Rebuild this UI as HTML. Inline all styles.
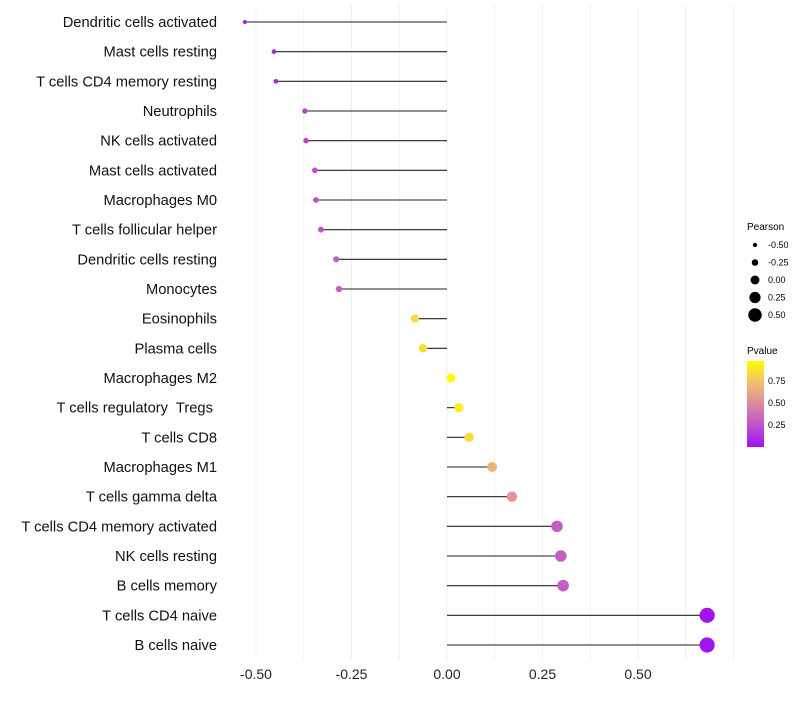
<!DOCTYPE html>
<html><head><meta charset="utf-8"><style>
body{margin:0;background:#fff;font-family:"Liberation Sans",sans-serif}
text{white-space:pre}
</style></head><body>
<svg id="chart" width="800" height="700">
<defs><linearGradient id="pg" x1="0" y1="1" x2="0" y2="0">
<stop offset="0" stop-color="#a010f0"/><stop offset="0.25" stop-color="#c050d0"/>
<stop offset="0.5" stop-color="#dc8aa0"/><stop offset="0.75" stop-color="#f2be70"/>
<stop offset="1" stop-color="#ffff00"/></linearGradient></defs>
<g id="grid"></g><g id="marks"></g><g id="labels"></g><g id="xaxis"></g>
<g font-size="9">
<text x="747" y="230" font-size="10">Pearson</text>
<g id="sizeLeg"></g>
</g>
<g font-size="9">
<text x="747" y="354" font-size="10">Pvalue</text>
<rect x="747" y="361" width="17" height="86" fill="url(#pg)"/>
<text x="768" y="384">0.75</text><text x="768" y="406">0.50</text><text x="768" y="428">0.25</text>
</g>
</svg>
<script>
const categories=["Dendritic cells activated","Mast cells resting","T cells CD4 memory resting","Neutrophils","NK cells activated","Mast cells activated","Macrophages M0","T cells follicular helper","Dendritic cells resting","Monocytes","Eosinophils","Plasma cells","Macrophages M2","T cells regulatory  Tregs ","T cells CD8","Macrophages M1","T cells gamma delta","T cells CD4 memory activated","NK cells resting","B cells memory","T cells CD4 naive","B cells naive"];
const pearson=[-0.529,-0.453,-0.448,-0.372,-0.369,-0.346,-0.343,-0.33,-0.29,-0.283,-0.084,-0.063,0.01,0.031,0.058,0.118,0.17,0.288,0.298,0.304,0.681,0.681];
const pvalues=[0.05,0.1,0.1,0.2,0.2,0.25,0.25,0.25,0.3,0.3,0.85,0.87,0.98,0.93,0.87,0.7,0.55,0.3,0.3,0.3,0.01,0.01];
const xTicks=[-0.5,-0.25,0,0.25,0.5];
const xTickLabels=["-0.50","-0.25","0.00","0.25","0.50"];
const sizeLegend=[-0.5,-0.25,0,0.25,0.5];
const NS="http://www.w3.org/2000/svg";
const x=v=>447+v*382;
const y=i=>22+i*(623/21);
const r=v=>2+(v+0.53)*4.6;
function col(p){const st=[[0,[160,16,240]],[0.25,[192,80,208]],[0.5,[220,138,160]],[0.75,[242,190,112]],[1,[255,255,0]]];
for(let k=1;k<st.length;k++){if(p<=st[k][0]){const t=(p-st[k-1][0])/(st[k][0]-st[k-1][0]);const a=st[k-1][1],b=st[k][1];return `rgb(${a.map((c,j)=>Math.round(c+(b[j]-c)*t)).join(",")})`;}}return "rgb(255,255,0)";}
function mk(t,a,p){const e=document.createElementNS(NS,t);for(const k in a)e.setAttribute(k,a[k]);document.getElementById(p).appendChild(e);return e;}
for(let v=-0.5;v<=0.76;v+=0.125){const g=mk("line",{x1:x(v),x2:x(v),y1:5,y2:660,stroke:"#f0f0f0","stroke-width":1},"grid");

}
categories.forEach((c,i)=>{
const l=mk("line",{x1:x(0),x2:x(pearson[i]),y1:y(i),y2:y(i),stroke:"#222","stroke-width":1.1},"marks");


const d=mk("circle",{cx:x(pearson[i]),cy:y(i),r:r(pearson[i]),fill:col(pvalues[i])},"marks");


const t=mk("text",{x:217,y:y(i)+5,"text-anchor":"end","font-size":14.7,fill:"#111"},"labels");
t.textContent=c;


});
xTicks.forEach((v,i)=>{const t=mk("text",{x:x(v),y:679,"text-anchor":"middle","font-size":14,fill:"#222"},"xaxis");
t.textContent=xTickLabels[i];

});
sizeLegend.forEach((v,i)=>{const yy=245+i*17.5;
const c=mk("circle",{cx:755,cy:yy,r:r(v),fill:"#000"},"sizeLeg");


const t=mk("text",{x:768,y:yy+3},"sizeLeg");t.textContent=v.toFixed(2);

});
</script>
</body></html>
